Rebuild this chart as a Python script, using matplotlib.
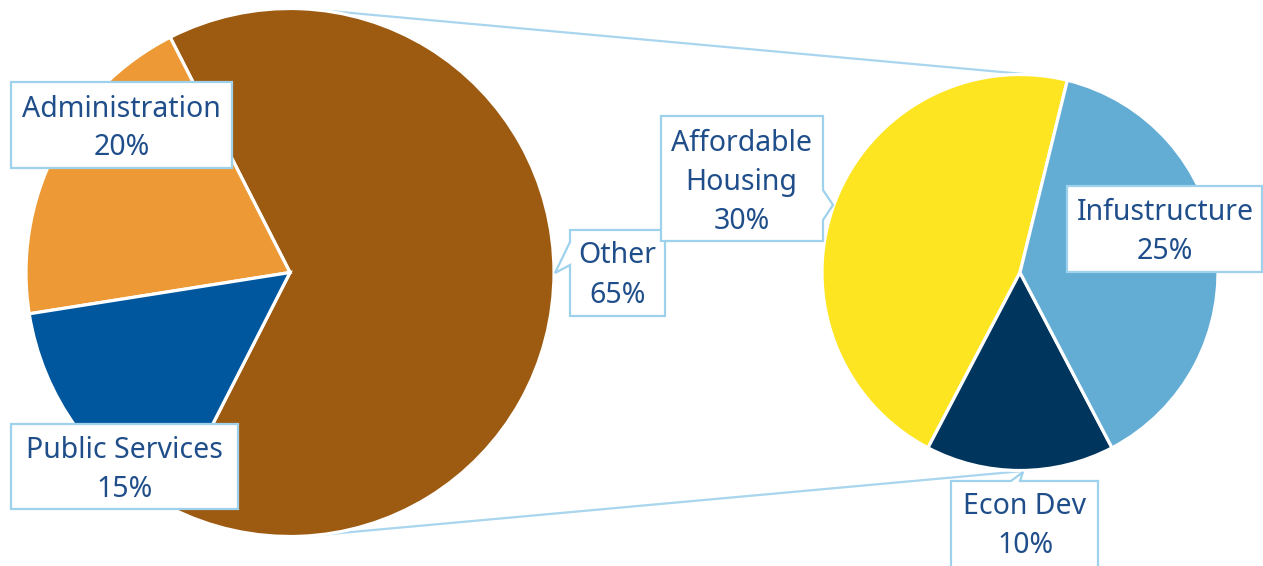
import numpy as np
import matplotlib
matplotlib.use("Agg")
import matplotlib.pyplot as plt
from matplotlib.patches import Polygon

# ---- data ----
main_labels = ["Other", "Administration", "Public Services"]
main_values = [65, 20, 15]
main_colors = ["#9C5B11", "#ED9A36", "#01579E"]

sub_labels = ["Affordable Housing", "Econ Dev", "Infustructure"]
sub_values = [30, 10, 25]
sub_colors = ["#FDE522", "#00355D", "#63ADD5"]

W, H = 1263, 566
fig = plt.figure(figsize=(W / 100, H / 100), dpi=100)
ax = fig.add_axes([0, 0, 1, 1])

def Y(py):
    return H - py

# geometry (pixels)
c1, r1 = (290, Y(272.5)), 264
c2, r2 = (1020, Y(272.5)), 198

other_share = main_values[0] / sum(main_values)
start1 = -other_share * 180
ax.pie(main_values, colors=main_colors, startangle=start1, counterclock=True,
       radius=r1, center=c1,
       wedgeprops=dict(edgecolor="white", linewidth=2.3, zorder=2))

tot2 = sum(sub_values)
start2 = 270 - (sub_values[0] + sub_values[1] / 2) / tot2 * 360
ax.pie(sub_values, colors=sub_colors, startangle=start2, counterclock=True,
       radius=r2, center=c2,
       wedgeprops=dict(edgecolor="white", linewidth=2.3, zorder=2))

# connector lines: external tangents
d = c2[0] - c1[0]
cth = (r1 - r2) / d
sth = np.sqrt(1 - cth ** 2)
line_col = "#A9D5EE"
for s in (1, -1):
    p1 = (c1[0] + r1 * cth, c1[1] + s * r1 * sth)
    p2 = (c2[0] + r2 * cth, c2[1] + s * r2 * sth)
    ax.plot([p1[0], p2[0]], [p1[1], p2[1]], color=line_col, lw=1.6, zorder=1,
            solid_capstyle="round")

# ---- labels ----
txt_col = "#1F4E8A"
box_col = "#9DD1EC"
fs = 20.5
fam = ["Noto Sans", "DejaVu Sans"]

def pct(v):
    return f"{v}%"

callouts = [
    # text lines, center x, baselines, polygon
    (["Administration", pct(main_values[1])], 121.5, [117, 155],
     [(11, 82), (232, 82), (232, 168), (11, 168)]),
    (["Public Services", pct(main_values[2])], 124.5, [458, 497],
     [(11, 424), (238, 424), (238, 509), (11, 509)]),
    ([main_labels[0], pct(main_values[0])], 617.5, [263, 303],
     [(570, 230), (665, 230), (665, 316), (570, 316), (570, 265), (555, 273), (570, 242)]),
    (["Affordable", "Housing", pct(sub_values[0])], 741.5, [151, 190, 229],
     [(661, 116), (823, 116), (823, 190), (833, 205), (823, 220), (823, 241), (661, 241)]),
    ([sub_labels[2], pct(sub_values[2])], 1165, [220, 259],
     [(1067, 186), (1262, 186), (1262, 272), (1067, 272)]),
    ([sub_labels[1], pct(sub_values[1])], 1025, [514, 553],
     [(951, 481), (1011, 481), (1023, 472), (1020, 481), (1098, 481), (1098, 575), (951, 575)]),
]

for lines, cx, bases, poly in callouts:
    pts = [(x, Y(y)) for x, y in poly]
    ax.add_patch(Polygon(pts, closed=True, facecolor="white", edgecolor=box_col,
                         lw=1.6, zorder=4, joinstyle="miter"))
    for t, b in zip(lines, bases):
        ax.text(cx, Y(b), t, ha="center", va="baseline", fontsize=fs,
                color=txt_col, family=fam, zorder=5)

ax.set_xlim(0, W)
ax.set_ylim(0, H)
ax.set_aspect("equal")
ax.axis("off")
fig.savefig("out.png", dpi=100, facecolor="white")
